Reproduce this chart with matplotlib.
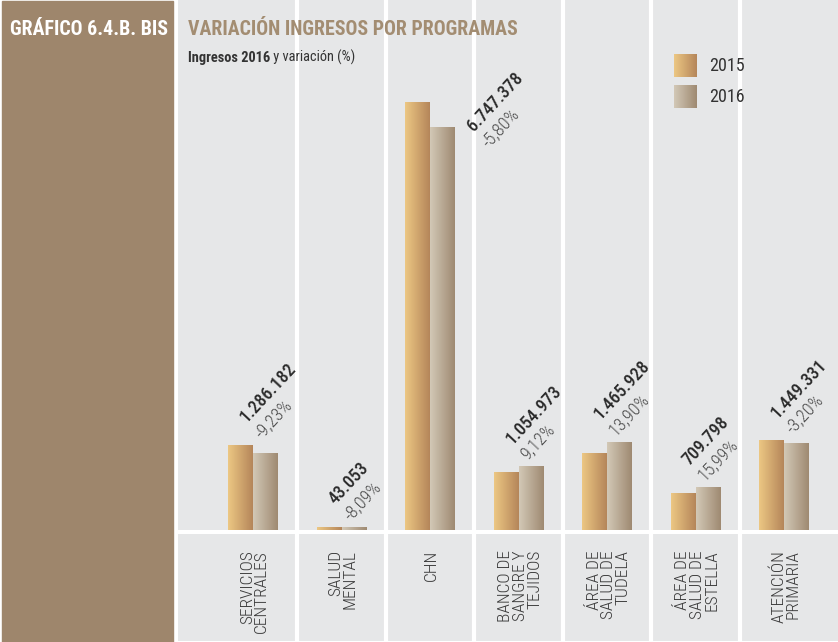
import numpy as np
import matplotlib
matplotlib.use('Agg')
import matplotlib.pyplot as plt
from matplotlib import font_manager
from matplotlib.colors import LinearSegmentedColormap
from matplotlib.patches import Rectangle

# datos
programas = ['SERVICIOS\nCENTRALES', 'SALUD\nMENTAL', 'CHN', 'BANCO DE\nSANGRE Y\nTEJIDOS',
             'ÁREA DE\nSALUD DE\nTUDELA', 'ÁREA DE\nSALUD DE\nESTELLA', 'ATENCIÓN\nPRIMARIA']
ingresos_2015 = [1416968, 46842, 7162822, 966800, 1287030, 611947, 1497243]
ingresos_2016 = [1286182, 43053, 6747378, 1054973, 1465928, 709798, 1449331]
variacion = [-9.23, -8.09, -5.80, 9.12, 13.90, 15.99, -3.20]
years = ['2015', '2016']

BROWN = '#9e866c'
GREY = '#e6e7e8'
TXT = '#333333'
grad_2015 = ['#ecc783', '#b5865a']
grad_2016 = ['#d2c8b6', '#9f8a72']

# fuente estrecha si hay alguna
names = set(f.name for f in font_manager.fontManager.ttflist)
narrow = dict(family='DejaVu Sans', stretch='condensed')
for n in ['Roboto Condensed', 'Liberation Sans Narrow', 'Open Sans Condensed', 'Noto Sans Condensed']:
    if n in names:
        narrow = dict(family=n)
        break

W, H = 838, 642
fig = plt.figure(figsize=(W/100, H/100), dpi=100)
fig.patch.set_facecolor('white')

def px(x, y):
    return x/W, 1 - y/H

# panel marron
fig.patches.append(Rectangle(px(2, 642), 171/W, 641/H, transform=fig.transFigure,
                             color=BROWN, zorder=0))

x = np.arange(len(programas))
xlim = (-0.846, 6.611)
ymax = 8.874e6

def clean(a):
    a.set_xticks([])
    a.set_yticks([])
    for s in a.spines.values():
        s.set_visible(False)

ax = fig.add_axes([178/W, 1 - 530/H, (W-178)/W, 530/H])
ax.set_facecolor(GREY)
bw = 0.275
b15 = ax.bar(x - bw/2 - 0.003, ingresos_2015, bw, color='none', zorder=2)
b16 = ax.bar(x + bw/2 + 0.003, ingresos_2016, bw, color='none', zorder=2)

grad = np.linspace(0, 1, 64).reshape(1, -1)
def gradient_fill(ax, bars, cols):
    cmap = LinearSegmentedColormap.from_list('g', cols)
    for b in bars:
        x0, y0 = b.get_xy()
        ax.imshow(grad, cmap=cmap, aspect='auto', interpolation='bilinear', zorder=2,
                  extent=(x0, x0 + b.get_width(), y0, y0 + b.get_height()))

gradient_fill(ax, b15, grad_2015)
gradient_fill(ax, b16, grad_2016)

for i in range(len(programas) - 1):
    ax.axvline(i + 0.5, color='white', lw=3, zorder=1)
ax.set_xlim(*xlim)
ax.set_ylim(0, ymax)
clean(ax)

# etiquetas de valor y variacion
def fmt_num(v):
    return f'{v:,}'.replace(',', '.')

def fmt_pct(p):
    return f'{p:.2f}%'.replace('.', ',')

for i, (v15, v16, p) in enumerate(zip(ingresos_2015, ingresos_2016, variacion)):
    top = max(v15, v16)
    if top > 0.7 * ymax:
        xy, off = (i, v16), (44, -5)
    else:
        xy, off = (i, top), (-6, 22)
    ax.annotate(fmt_num(v16), xy, xytext=off, textcoords='offset pixels',
                rotation=47, rotation_mode='anchor', ha='left', va='baseline',
                fontsize=13, fontweight='medium', color='#2b2b2b', **narrow)
    ax.annotate(fmt_pct(p), xy, xytext=(off[0] + 15, off[1] - 16), textcoords='offset pixels',
                rotation=47, rotation_mode='anchor', ha='left', va='baseline',
                fontsize=13, fontweight='light', color='#4a4a4a', **narrow)

# etiquetas de programa
axb = fig.add_axes([178/W, 1 - 641/H, (W-178)/W, 107/H])
axb.set_facecolor(GREY)
for i in range(len(programas) - 1):
    axb.axvline(i + 0.5, color='white', lw=3)
axb.set_xlim(*xlim)
axb.set_ylim(0, 1)
clean(axb)
for i, lab in enumerate(programas):
    axb.text(i + 0.02, 0.85, lab, rotation=90, ha='center', va='top', multialignment='right',
             fontsize=12.5, fontweight='light', color='#3a3a3a', linespacing=0.95, **narrow)

# leyenda
for k, (yr, cols) in enumerate(zip(years, [grad_2015, grad_2016])):
    y0 = 54 + 31 * k
    la = fig.add_axes([674/W, 1 - (y0 + 23)/H, 23/W, 23/H])
    la.imshow(grad, cmap=LinearSegmentedColormap.from_list('g', cols), aspect='auto',
              interpolation='bilinear')
    la.axis('off')
    fig.text(*px(709, y0 + 12), yr, ha='left', va='center', fontsize=13, color=TXT, **narrow)

# titulos
fig.text(*px(10, 35), 'GRÁFICO 6.4.B. BIS', ha='left', va='baseline', fontsize=14.3,
         fontweight='bold', color='white', **narrow)
fig.text(*px(188, 35), 'VARIACIÓN INGRESOS POR PROGRAMAS', ha='left', va='baseline',
         fontsize=14.3, fontweight='bold', color='#a38d72', **narrow)
t1 = fig.text(*px(188, 62), 'Ingresos 2016', ha='left', va='baseline', fontsize=10.4,
              fontweight='bold', color=TXT, **narrow)
r = fig.canvas.get_renderer()
bb = t1.get_window_extent(r)
fig.text(bb.x1/W, 1 - 62/H, ' y variación (%)', ha='left', va='baseline', fontsize=10.4,
         color=TXT, **narrow)

plt.savefig('out.png', dpi=100)
